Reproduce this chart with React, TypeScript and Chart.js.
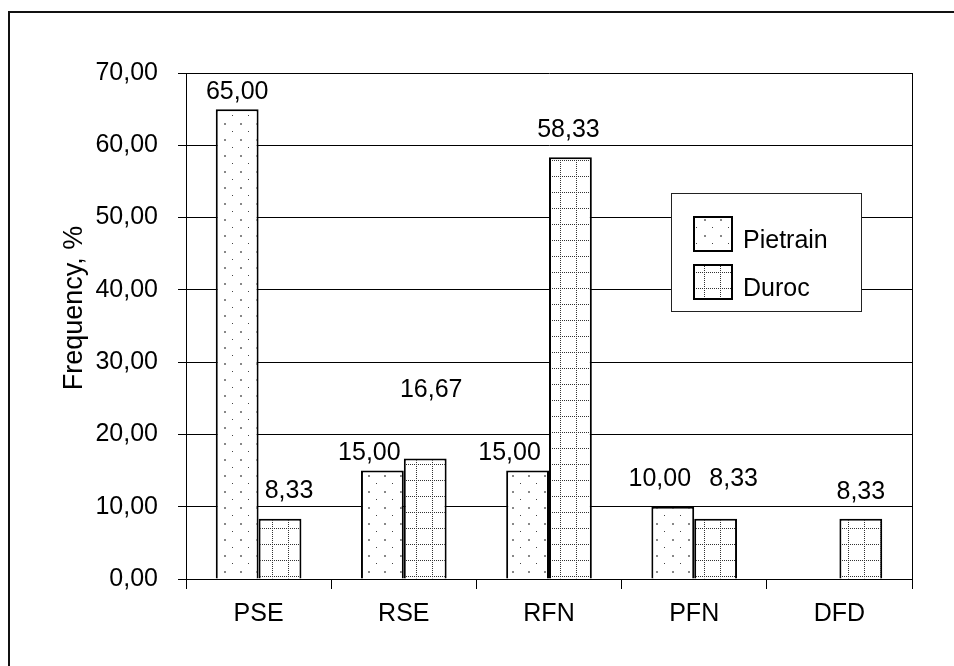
import React, { useEffect, useRef } from "react";
import { Chart, registerables } from "chart.js";

Chart.register(...registerables);

const categories = ["PSE", "RSE", "RFN", "PFN", "DFD"];
const seriesNames = ["Pietrain", "Duroc"];
const pietrain: (number | null)[] = [65.0, 15.0, 15.0, 10.0, null];
const duroc: (number | null)[] = [8.33, 16.67, 58.33, 8.33, 8.33];
const yMin = 0;
const yMax = 70;
const yStep = 10;
const yTitle = "Frequency, %";

const FONT = "'Liberation Sans', Arial, sans-serif";

// label placement nudges [dx, gap above bar top to baseline]
const pietrainLabelShift = [[0, 10], [-13, 11], [-18, 11], [-13, 21], [0, 0]];
const durocLabelShift = [[9, 21], [6, 61], [-2, 20], [18, 33], [0, 20]];

function fmt(v: number) {
  return v.toFixed(2).replace(".", ",");
}

function makeDots(): CanvasPattern | string {
  const c = document.createElement("canvas");
  c.width = 16;
  c.height = 16;
  const g = c.getContext("2d");
  if (!g) return "#fff";
  g.fillStyle = "#fff";
  g.fillRect(0, 0, 16, 16);
  g.fillStyle = "#444";
  g.fillRect(8, 3, 1, 1);
  g.fillStyle = "#888";
  g.fillRect(0, 11, 2, 2);
  const p = g.createPattern(c, "repeat");
  return p || "#fff";
}

function makeGrid(): CanvasPattern | string {
  const c = document.createElement("canvas");
  c.width = 16;
  c.height = 16;
  const g = c.getContext("2d");
  if (!g) return "#fff";
  g.fillStyle = "#fff";
  g.fillRect(0, 0, 16, 16);
  g.fillStyle = "#333";
  for (let i = 0; i < 16; i += 2) {
    g.fillRect(i, 0, 1, 1);
    g.fillRect(0, i, 1, 1);
  }
  const p = g.createPattern(c, "repeat");
  return p || "#fff";
}

export default function App() {
  const ref = useRef<HTMLCanvasElement | null>(null);

  useEffect(() => {
    if (!ref.current) return;
    const dots = makeDots();
    const grid = makeGrid();
    const fills = [dots, grid];

    const overlay = {
      id: "overlay",
      afterDatasetsDraw(chart: any) {
        const ctx = chart.ctx;
        const area = chart.chartArea;
        ctx.save();
        // right frame line
        ctx.strokeStyle = "#000";
        ctx.lineWidth = 1;
        ctx.beginPath();
        ctx.moveTo(Math.round(area.right) + 0.5, area.top);
        ctx.lineTo(Math.round(area.right) + 0.5, area.bottom);
        ctx.stroke();

        // value labels
        ctx.fillStyle = "#000";
        ctx.font = `25px ${FONT}`;
        ctx.textAlign = "center";
        ctx.textBaseline = "alphabetic";
        const shifts = [pietrainLabelShift, durocLabelShift];
        const values = [pietrain, duroc];
        for (let d = 0; d < 2; d++) {
          const meta = chart.getDatasetMeta(d);
          meta.data.forEach((bar: any, j: number) => {
            const v = values[d][j];
            if (v === null || v === undefined) return;
            const [dx, gap] = shifts[d][j];
            ctx.fillText(fmt(v), bar.x + dx, bar.y - gap);
          });
        }

        // y axis title
        ctx.save();
        ctx.translate(75, 308);
        ctx.rotate(-Math.PI / 2);
        ctx.textAlign = "center";
        ctx.textBaseline = "middle";
        ctx.font = `27px ${FONT}`;
        ctx.fillText(yTitle, 0, 0);
        ctx.restore();

        // legend
        const lx = area.left + 485;
        const ly = area.top + 120;
        const lw = 190;
        const lh = 118;
        ctx.fillStyle = "#fff";
        ctx.fillRect(lx, ly, lw, lh);
        ctx.strokeStyle = "#222";
        ctx.lineWidth = 1;
        ctx.strokeRect(lx + 0.5, ly + 0.5, lw, lh);
        const rows = [ly + 24, ly + 72];
        for (let i = 0; i < 2; i++) {
          const sx = lx + 23;
          const sy = rows[i];
          ctx.fillStyle = fills[i] as any;
          ctx.fillRect(sx, sy, 38, 34);
          ctx.strokeStyle = "#000";
          ctx.lineWidth = 2;
          ctx.strokeRect(sx, sy, 38, 34);
          ctx.fillStyle = "#000";
          ctx.textAlign = "left";
          ctx.textBaseline = "alphabetic";
          ctx.font = `25px ${FONT}`;
          ctx.fillText(seriesNames[i], lx + 72, sy + 31);
        }
        ctx.restore();
      },
    };

    const chart = new Chart(ref.current, {
      type: "bar",
      data: {
        labels: categories,
        datasets: [
          {
            label: seriesNames[0],
            data: pietrain,
            backgroundColor: dots as any,
            borderColor: "#000",
            borderWidth: 2,
            categoryPercentage: 0.59,
            barPercentage: 1.0,
          },
          {
            label: seriesNames[1],
            data: duroc,
            backgroundColor: grid as any,
            borderColor: "#000",
            borderWidth: 2,
            categoryPercentage: 0.59,
            barPercentage: 1.0,
          },
        ],
      },
      options: {
        animation: false,
        responsive: false,
        maintainAspectRatio: false,
        layout: { padding: { top: 73, right: 42, left: 0, bottom: 0 } },
        plugins: {
          legend: { display: false },
          tooltip: { enabled: false },
          title: { display: false },
        },
        scales: {
          x: {
            offset: true,
            grid: {
              display: true,
              drawOnChartArea: false,
              offset: true,
              color: "#000",
              tickColor: "#000",
              tickLength: 10,
              lineWidth: 1,
            },
            border: { display: true, color: "#000", width: 1 },
            ticks: {
              color: "#000",
              font: { family: FONT, size: 25 },
              padding: 10,
              maxRotation: 0,
            },
            afterFit(scale: any) {
              scale.height = 87;
            },
          },
          y: {
            min: yMin,
            max: yMax,
            ticks: {
              stepSize: yStep,
              color: "#000",
              font: { family: FONT, size: 25 },
              padding: 20,
              callback: (v: any) => fmt(Number(v)),
            },
            grid: {
              color: "#000",
              tickColor: "#000",
              tickLength: 8,
              lineWidth: 1,
            },
            border: { display: true, color: "#000", width: 1 },
            afterFit(scale: any) {
              scale.width = 186;
            },
          },
        },
      },
      plugins: [overlay],
    });

    return () => chart.destroy();
  }, []);

  return (
    <div
      style={{
        position: "fixed",
        left: 0,
        top: 0,
        width: 954,
        height: 666,
        overflow: "hidden",
        background: "#fff",
      }}
    >
      <div
        style={{
          position: "absolute",
          left: 8,
          top: 11,
          width: 1000,
          height: 1000,
          borderLeft: "2px solid #111",
          borderTop: "2px solid #111",
        }}
      />
      <canvas
        ref={ref}
        width={954}
        height={666}
        style={{ position: "absolute", left: 0, top: 0, width: 954, height: 666 }}
      />
    </div>
  );
}
